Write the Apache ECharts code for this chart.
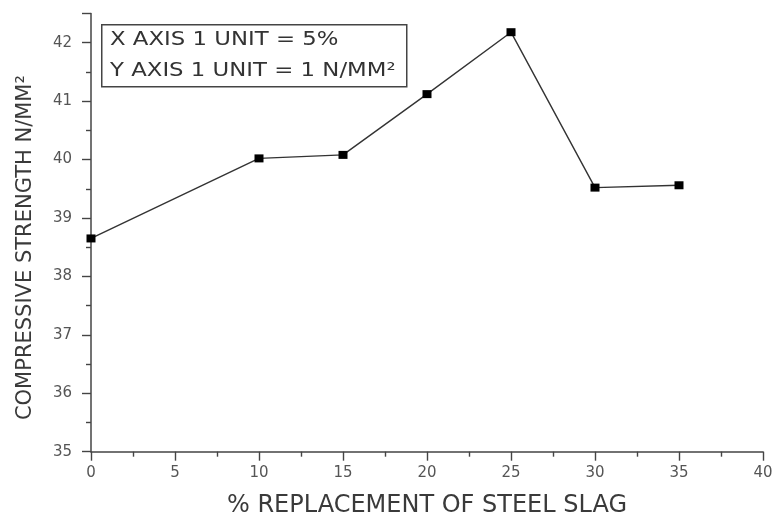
<!DOCTYPE html>
<html>
<head>
<meta charset="utf-8">
<script src="https://cdn.jsdelivr.net/npm/echarts@6/dist/echarts.min.js"></script>
<style>html,body{margin:0;padding:0;background:#fff}#c{width:774px;height:517px}</style>
</head>
<body>
<div id="c"></div>
<script>
const xValues = [0, 10, 15, 20, 25, 30, 35];
const strength = [38.65, 40.02, 40.08, 41.12, 42.18, 39.52, 39.56];
const xTicks = [0, 5, 10, 15, 20, 25, 30, 35, 40];
const yTicks = [35, 36, 37, 38, 39, 40, 41, 42];
const legendLines = ['X AXIS 1 UNIT = 5%', 'Y AXIS 1 UNIT = 1 N/MM\u00B2'];
const xTitle = '% REPLACEMENT OF STEEL SLAG';
const yTitle = 'COMPRESSIVE STRENGTH N/MM\u00B2';

const chart = echarts.init(document.getElementById('c'), null, {renderer: 'canvas'});
const font = 'DejaVu Sans, Verdana, sans-serif';
chart.setOption({
  animation: false,
  grid: {left: 91, right: 11, top: 13.5, bottom: 65.3, containLabel: false, outerBoundsMode: 'none'},
  xAxis: {
    type: 'value', min: 0, max: 40, interval: 5,
    name: xTitle, nameLocation: 'middle', nameGap: 42,
    nameTextStyle: {fontFamily: font, fontSize: 24, color: '#3a3a3a'},
    axisLine: {lineStyle: {color: '#444', width: 1.5}},
    axisTick: {inside: false, length: 9, lineStyle: {color: '#444', width: 1.4}},
    minorTick: {show: true, splitNumber: 2, length: 5, lineStyle: {color: '#444', width: 1.4}},
    axisLabel: {margin: 14, fontFamily: font, fontSize: 15, color: '#555',
      formatter: v => (xTicks.indexOf(v) >= 0 ? String(v) : '')},
    splitLine: {show: false}
  },
  yAxis: {
    type: 'value', min: 35, max: 42.5, interval: 1,
    name: yTitle, nameLocation: 'middle', nameGap: 55, nameRotate: 90,
    nameTextStyle: {fontFamily: font, fontSize: 21, color: '#3a3a3a', padding: [0, 30, 0, 0]},
    axisLine: {lineStyle: {color: '#444', width: 1.5}},
    axisTick: {inside: false, length: 9, lineStyle: {color: '#444', width: 1.4}},
    minorTick: {show: true, splitNumber: 2, length: 5, lineStyle: {color: '#444', width: 1.4}},
    axisLabel: {margin: 19, fontFamily: font, fontSize: 15, color: '#555',
      formatter: v => (yTicks.indexOf(v) >= 0 ? String(v) : '')},
    splitLine: {show: false}
  },
  series: [{
    type: 'line',
    data: xValues.map((x, i) => [x, strength[i]]),
    symbol: 'rect', symbolSize: [9, 8],
    itemStyle: {color: '#000'},
    lineStyle: {color: '#333', width: 1.4},
    clip: false
  }],
  graphic: [
    {type: 'rect', left: 101, top: 24, shape: {width: 305, height: 62},
     style: {fill: '#fff', stroke: '#444', lineWidth: 1.5}, z: 10},
    {type: 'text', x: 110, y: 40, scaleX: 1.2, z: 11,
     style: {text: legendLines[0], font: '19px ' + font, fill: '#333', textVerticalAlign: 'middle', verticalAlign: 'middle'}},
    {type: 'text', x: 110, y: 71, scaleX: 1.2, z: 11,
     style: {text: legendLines[1], font: '19px ' + font, fill: '#333', textVerticalAlign: 'middle', verticalAlign: 'middle'}}
  ]
});
</script>
</body>
</html>
